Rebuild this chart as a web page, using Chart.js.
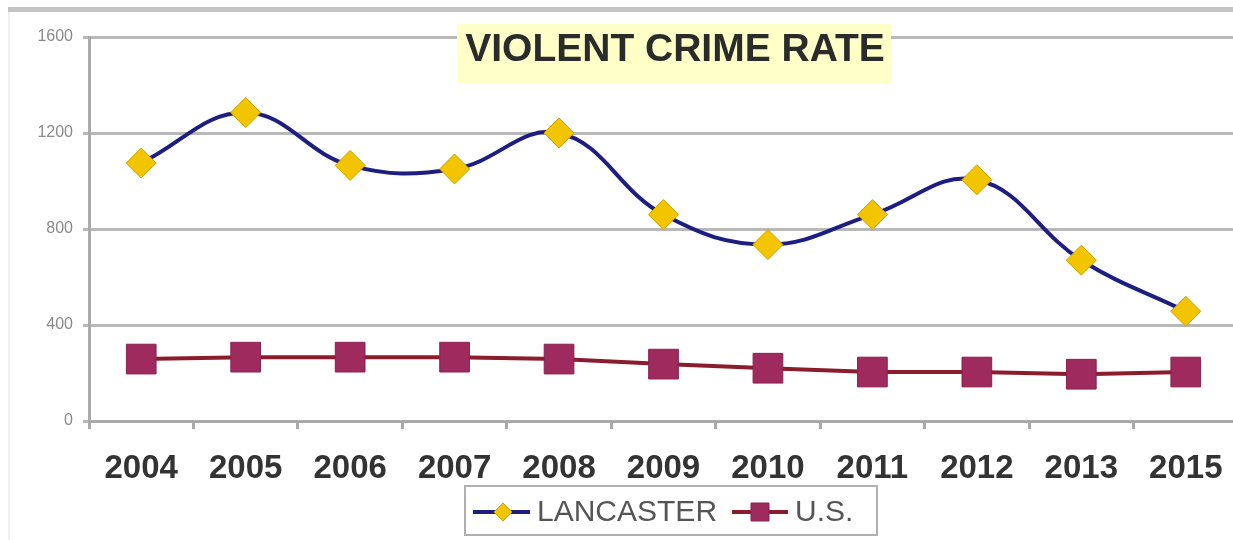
<!DOCTYPE html>
<html>
<head>
<meta charset="utf-8">
<script src="https://cdn.jsdelivr.net/npm/chart.js@4/dist/chart.umd.min.js"></script>
<style>
  html, body { margin: 0; padding: 0; background: #fff; overflow: hidden; }
  #wrap { width: 1233px; height: 540px; position: relative; overflow: hidden; }
</style>
</head>
<body>
<div id="wrap"><canvas id="c" width="1238" height="540"></canvas></div>
<script>
const years = ['2004','2005','2006','2007','2008','2009','2010','2011','2012','2013','2015'];
const lancaster = [1075, 1285, 1065, 1050, 1200, 860, 735, 860, 1005, 670, 457];
const us = [258, 266, 266, 266, 258, 237, 220, 204, 204, 195, 204];
const yTicks = [0, 400, 800, 1200, 1600];
const chartTitle = 'VIOLENT CRIME RATE';
const seriesNames = ['LANCASTER', 'U.S.'];

const FONT = '"Liberation Sans", Arial, sans-serif';

const decor = {
  id: 'decor',
  beforeDraw(chart) {
    const ctx = chart.ctx;
    ctx.save();
    ctx.fillStyle = '#fff';
    ctx.fillRect(0, 0, chart.width, chart.height);
    // top gray bar
    ctx.fillStyle = '#c4c4c4';
    ctx.fillRect(8, 7, chart.width - 8, 5);
    // faint left frame line
    ctx.fillStyle = '#f0f0f0';
    ctx.fillRect(8, 12, 2, chart.height - 12);
    ctx.restore();
  },
  afterDraw(chart) {
    const ctx = chart.ctx;
    ctx.save();
    // title box
    ctx.fillStyle = '#ffffc8';
    ctx.fillRect(457, 24, 434, 59);
    ctx.font = 'bold 39px ' + FONT;
    ctx.fillStyle = '#2b2b2b';
    ctx.textAlign = 'center';
    ctx.textBaseline = 'middle';
    ctx.fillText(chartTitle, 675, 50);

    // legend
    ctx.fillStyle = '#fff';
    ctx.fillRect(465, 486, 412, 49);
    ctx.strokeStyle = '#b0b0b0';
    ctx.lineWidth = 2;
    ctx.strokeRect(465, 486, 412, 49);
    const ds = chart.data.datasets;
    const items = [
      {x0: 473, x1: 530, mx: 503, tx: 537},
      {x0: 732, x1: 788, mx: 760, tx: 795}
    ];
    const ly = 512;
    items.forEach((it, i) => {
      const d = ds[i];
      ctx.strokeStyle = d.borderColor;
      ctx.lineWidth = 4;
      ctx.beginPath();
      ctx.moveTo(it.x0, ly); ctx.lineTo(it.x1, ly); ctx.stroke();
      ctx.fillStyle = d.pointBackgroundColor;
      ctx.strokeStyle = d.pointBorderColor;
      ctx.lineWidth = 1;
      ctx.beginPath();
      if (i === 0) {
        const r = 9;
        ctx.moveTo(it.mx, ly - r); ctx.lineTo(it.mx + r, ly); ctx.lineTo(it.mx, ly + r); ctx.lineTo(it.mx - r, ly); ctx.closePath();
      } else {
        ctx.rect(it.mx - 9, ly - 9, 18, 18);
      }
      ctx.fill(); ctx.stroke();
      ctx.fillStyle = '#555';
      ctx.font = '30px ' + FONT;
      ctx.textAlign = 'left';
      ctx.textBaseline = 'middle';
      ctx.fillText(d.label, it.tx, ly + 1);
    });
    ctx.restore();
  }
};

new Chart(document.getElementById('c'), {
  type: 'line',
  data: {
    labels: years,
    datasets: [
      {
        label: seriesNames[0],
        data: lancaster,
        borderColor: '#1e1e80',
        borderWidth: 4,
        tension: 0.4,
        pointStyle: 'rectRot',
        pointRadius: 15,
        pointHoverRadius: 15,
        pointBackgroundColor: '#f2c500',
        pointBorderColor: '#c9a400',
        pointBorderWidth: 1
      },
      {
        label: seriesNames[1],
        data: us,
        borderColor: '#8b1c2c',
        borderWidth: 4,
        tension: 0,
        pointStyle: 'rect',
        pointRadius: 21,
        pointHoverRadius: 21,
        pointBackgroundColor: '#9e2a5e',
        pointBorderColor: '#8a2050',
        pointBorderWidth: 1
      }
    ]
  },
  options: {
    responsive: false,
    animation: false,
    events: [],
    layout: { autoPadding: false, padding: { left: 0, right: 0, top: 37, bottom: 0 } },
    plugins: {
      legend: { display: false },
      title: { display: false },
      tooltip: { enabled: false }
    },
    scales: {
      x: {
        offset: true,
        grid: { display: true, drawOnChartArea: false, drawTicks: true, tickLength: 8, offset: true, color: '#aaaaaa', lineWidth: 3 },
        border: { display: true, color: '#aaaaaa', width: 3 },
        ticks: { color: '#333', font: { family: FONT, size: 33, weight: 'bold' }, padding: 20, maxRotation: 0, autoSkip: false },
        afterFit(s) { s.height = 119; s.paddingLeft = 0; s.paddingRight = 0; }
      },
      y: {
        min: 0, max: 1600,
        afterBuildTicks(s) { s.ticks = yTicks.map(v => ({ value: v })); },
        grid: { color: '#b8b8b8', lineWidth: 3, tickLength: 6, drawTicks: true },
        border: { display: true, color: '#aaaaaa', width: 3 },
        ticks: { color: '#8a8a8a', font: { family: FONT, size: 16 }, padding: 10, callback: v => String(v) },
        afterFit(s) { s.width = 89; s.paddingTop = 0; s.paddingBottom = 0; }
      }
    }
  },
  plugins: [decor]
});
</script>
</body>
</html>
